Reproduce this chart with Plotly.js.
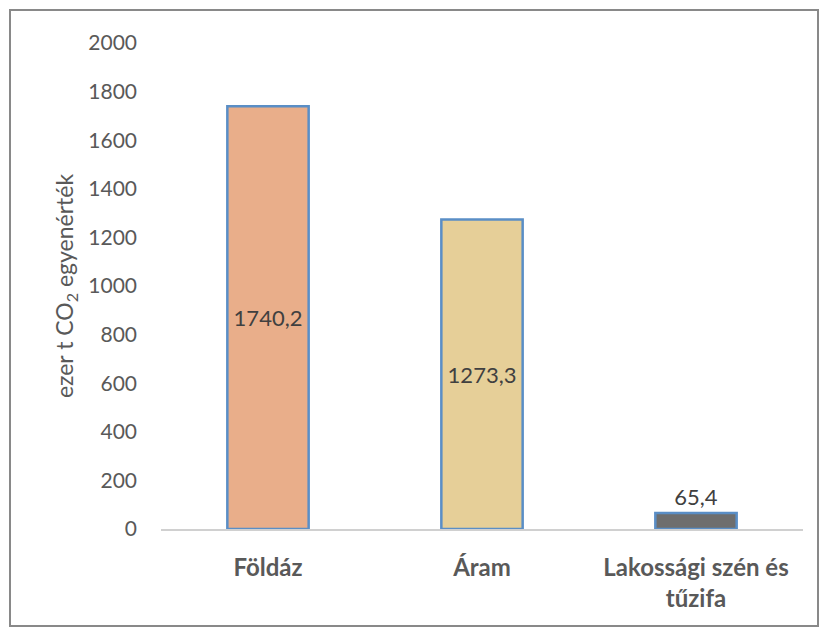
<!DOCTYPE html>
<html><head><meta charset="utf-8">
<script src="https://cdn.plot.ly/plotly-3.0.1.min.js"></script>
<style>
html,body{margin:0;padding:0;background:#fff;}
#frame{position:absolute;left:9px;top:9px;width:806px;height:614px;border:2px solid #898989;}
#chart{position:absolute;left:0;top:0;width:824px;height:632px;}
</style></head>
<body>
<div id="chart"></div>
<div id="frame"></div>
<script>
const categories = ['Földáz', 'Áram', 'Lakossági szén és<br>tűzifa'];
const values = [1740.2, 1273.3, 65.4];
const barColors = ['#E9AE8A', '#E6CF98', '#6E6E6E'];
const labelPositions = ['inside', 'inside', 'outside'];
const yTicks = [0, 200, 400, 600, 800, 1000, 1200, 1400, 1600, 1800, 2000];

const font = 'Lato, "Open Sans", sans-serif';
Plotly.newPlot('chart', [{
  type: 'bar',
  x: categories,
  y: values,
  width: 0.38,
  marker: {color: barColors, line: {color: '#5A8EC6', width: 2.5}},
  text: values.map(v => v.toFixed(1).replace('.', ',')),
  textposition: labelPositions,
  insidetextanchor: 'middle',
  constraintext: 'none',
  cliponaxis: false,
  textfont: {family: font, size: 22, color: '#404040'},
  hoverinfo: 'skip'
}], {
  width: 824, height: 632,
  margin: {l: 161, r: 21, t: 43, b: 103},
  paper_bgcolor: '#fff', plot_bgcolor: '#fff',
  showlegend: false,
  separators: ', ',
  xaxis: {
    showline: true, linecolor: '#D0D0D0', linewidth: 2,
    showgrid: false, ticks: '', ticklabelstandoff: 16,
    tickfont: {family: font, size: 24, color: '#595959', weight: 'bold'}
  },
  yaxis: {
    range: [0, 2000], tickvals: yTicks, showgrid: false, zeroline: false,
    showline: false, ticks: '', ticklabelstandoff: 23,
    tickfont: {family: font, size: 21, color: '#595959'},
    title: {text: 'ezer t CO<sub>2</sub> egyenérték', font: {family: font, size: 23, color: '#595959'}, standoff: 8}
  }
}, {staticPlot: true});
</script>
</body></html>
